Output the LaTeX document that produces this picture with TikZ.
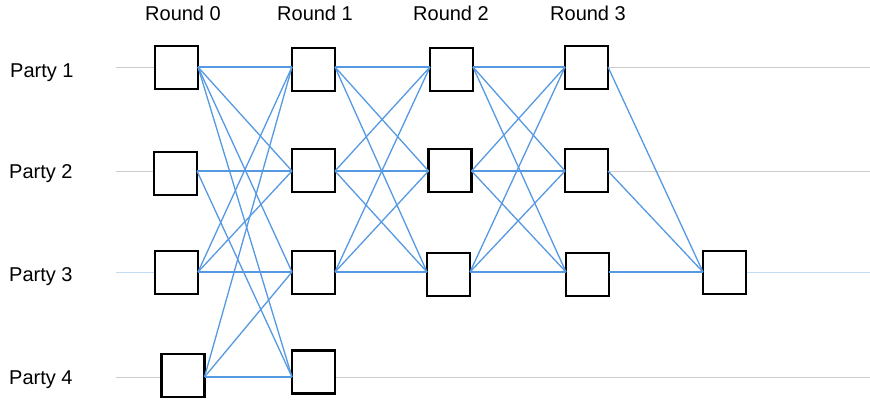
\documentclass[tikz,border=0pt]{standalone}
\usepackage{fontspec}
\setmainfont{Liberation Sans}
\definecolor{edgeblue}{HTML}{5599E2}
\definecolor{partygray}{HTML}{CCCCCC}
\definecolor{partyblue}{HTML}{C4DCF2}
\begin{document}
\begin{tikzpicture}[x=1pt,y=-1pt,
  vbox/.style={draw=black,line width=2.3pt,fill=white,minimum width=43pt,minimum height=43pt,inner sep=0pt,outer sep=0pt},
  ref/.style={draw=edgeblue,line width=1.3pt},
  pline/.style={draw=partygray,line width=1pt},
  lbl/.style={font=\fontsize{20}{24}\selectfont,inner sep=0pt}]
\useasboundingbox (0,0) rectangle (870,400);
% party lines
\foreach \n/\y in {1/67,2/171,3/272,4/377}{
  \coordinate (ls\n) at (116,\y);
  \coordinate (le\n) at (870,\y);
}
\draw[pline] (ls1) -- (le1);
\draw[pline] (ls2) -- (le2);
\draw[draw=partyblue,line width=1pt] (ls3) -- (le3);
\draw[pline] (ls4) -- (le4);
% labels
\node[lbl,anchor=base west] (p1) at (10,77) {Party 1};
\node[lbl,anchor=base west] (p2) at (9,178) {Party 2};
\node[lbl,anchor=base west] (p3) at (9,281) {Party 3};
\node[lbl,anchor=base west] (p4) at (9,384) {Party 4};
\node[lbl,anchor=base] (r0) at (183,20) {Round 0};
\node[lbl,anchor=base] (r1) at (315,20) {Round 1};
\node[lbl,anchor=base] (r2) at (451,20) {Round 2};
\node[lbl,anchor=base] (r3) at (588,20) {Round 3};
% vertices
\node[vbox] (a1) at (176.5,67.5) {};
\node[vbox] (a2) at (175.5,173.5) {};
\node[vbox] (a3) at (176.5,272.5) {};
\node[vbox] (a4) at (183,375.5) {};
\node[vbox] (b1) at (313.5,69.5) {};
\node[vbox] (b2) at (313.5,170.5) {};
\node[vbox] (b3) at (313.5,272.5) {};
\node[vbox] (b4) at (313.5,372) {};
\node[vbox] (c1) at (451.5,69.5) {};
\node[vbox] (c2) at (450,170.5) {};
\node[vbox] (c3) at (448.5,274.5) {};
\node[vbox] (d1) at (586.5,67.5) {};
\node[vbox] (d2) at (586.5,170.5) {};
\node[vbox] (d3) at (587.5,274.5) {};
\node[vbox] (f) at (724.5,272.5) {};
% round 0 -> round 1
\foreach \s/\ps/\t/\pt in {a1/1/b1/1,a1/1/b2/2,a1/1/b3/3,a1/1/b4/4,a2/2/b2/2,a2/2/b4/4,a3/3/b1/1,a3/3/b2/2,a3/3/b3/3,a4/4/b1/1,a4/4/b3/3,a4/4/b4/4}
  \draw[ref] (\s.east |- ls\ps) -- (\t.west |- ls\pt);
% round 1 -> round 2
\foreach \s/\ps in {b1/1,b2/2,b3/3}
  \foreach \t/\pt in {c1/1,c2/2,c3/3}
    \draw[ref] (\s.east |- ls\ps) -- (\t.west |- ls\pt);
% round 2 -> round 3
\foreach \s/\ps in {c1/1,c2/2,c3/3}
  \foreach \t/\pt in {d1/1,d2/2,d3/3}
    \draw[ref] (\s.east |- ls\ps) -- (\t.west |- ls\pt);
% round 3 -> final
\foreach \s/\ps in {d1/1,d2/2,d3/3}
  \draw[ref] (\s.east |- ls\ps) -- (f.west |- ls3);
\end{tikzpicture}
\end{document}
